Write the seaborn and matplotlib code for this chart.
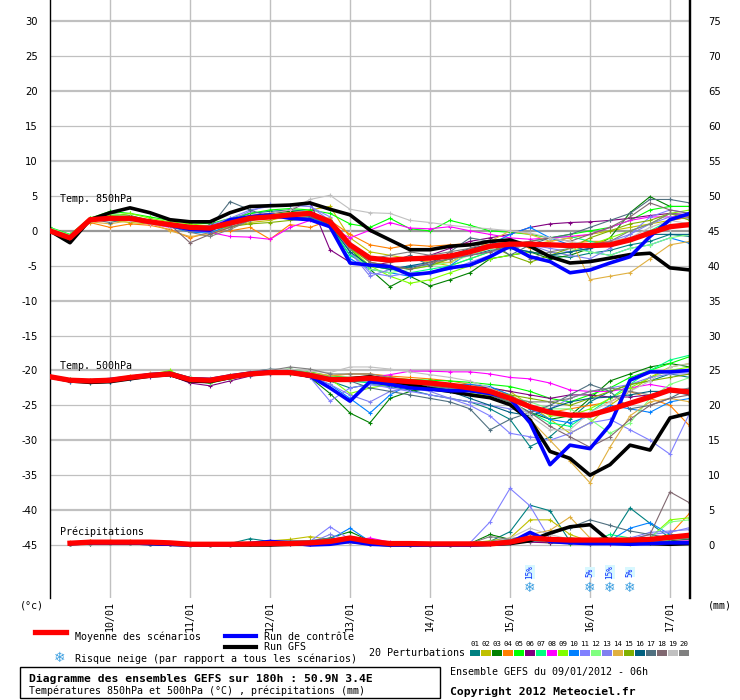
import numpy as np
import pandas as pd
import matplotlib
matplotlib.use("Agg")
import matplotlib.pyplot as plt
import seaborn as sns
from matplotlib.lines import Line2D
from matplotlib.patches import Rectangle

# ---------------- data ----------------
hours = list(range(0, 193, 6))           # 33 steps, 09/01 06h -> +192h
precip_hours = hours[1:]
date_hours = [18, 42, 66, 90, 114, 138, 162, 186]
date_labels = ["10/01", "11/01", "12/01", "13/01", "14/01", "15/01", "16/01", "17/01"]
yticks = list(range(-45, 31, 5))
right_labels = [str(v + 45) for v in yticks]

member_names = ["%02d" % k for k in range(1, 21)]
member_colors = ["#008080", "#c0c000", "#008000", "#ff8000", "#00ff00", "#800080",
                 "#00ff80", "#ff00ff", "#80ff00", "#0080ff", "#8080ff", "#80ff80",
                 "#8080f0", "#e0b040", "#80b000", "#006080", "#507080", "#806870",
                 "#c0c0c0", "#808080"]

mean850 = [0, -1.0, 1.6, 1.8, 1.8, 1.3, 0.9, 0.5, 0.4, 1.1, 1.8, 2.0, 2.3, 2.5, 1.3, -2.0,
           -3.9, -4.2, -4.0, -3.9, -3.6, -3.0, -2.2, -1.9, -1.9, -2.0, -2.1, -2.1, -2.0, -1.3,
           -0.3, 0.6, 0.9]
gfs850 = [0, -1.7, 1.6, 2.6, 3.3, 2.6, 1.6, 1.3, 1.3, 2.6, 3.5, 3.6, 3.7, 4.0, 3.1, 2.3,
          0.1, -1.3, -2.7, -2.7, -2.2, -2.0, -1.5, -1.3, -2.2, -3.7, -4.6, -4.4, -3.9, -3.4,
          -3.2, -5.3, -5.6]
ctrl850 = [0, -1.0, 1.6, 1.8, 1.8, 1.3, 0.8, 0.2, 0.1, 1.6, 2.0, 2.3, 1.8, 1.6, 0.6, -4.6,
           -4.9, -5.1, -6.3, -6.0, -5.3, -4.9, -3.7, -2.2, -3.7, -4.4, -6.0, -5.6, -4.6, -3.7,
           -0.8, 1.6, 2.5]

m850_01 = [0.3, -0.8, 1.5, 2.2, 2.0, 1.5, 0.8, 0.2, 0.5, 1.5, 2.5, 2.8, 3.0, 2.8, 0.5, -3.5, -5.0, -5.5, -5.2, -4.8, -4.0, -3.5, -2.8, -2.5, -3.0, -3.5, -3.8, -3.2, -2.8, -2.0, -1.5, -0.5, -0.8]
m850_02 = [0.1, -1.0, 1.8, 1.5, 1.2, 1.0, 0.6, 0.3, -0.2, 0.5, 1.2, 1.5, 2.2, 3.0, 3.5, -1.0, -3.0, -3.5, -4.0, -4.5, -5.0, -4.0, -3.0, -2.5, -2.0, -1.5, -1.0, -0.5, 0.0, 0.5, 1.0, 1.5, 2.0]
m850_03 = [0.0, -1.2, 1.5, 2.5, 2.2, 1.5, 1.0, 0.8, 0.5, 1.2, 2.0, 2.5, 2.8, 2.5, 1.0, -2.5, -5.5, -8.0, -6.5, -7.9, -7.0, -6.0, -4.0, -3.5, -3.0, -4.0, -3.5, -2.5, -1.0, 2.6, 4.9, 3.5, 3.5]
m850_04 = [0.2, -0.8, 1.2, 0.5, 1.0, 0.8, 0.2, -1.0, -0.2, 0.0, 0.5, -1.2, 0.9, 0.5, 1.5, -0.5, -2.0, -2.5, -2.0, -2.2, -2.0, -1.8, -2.0, -1.5, -2.5, -2.0, -1.8, -1.5, -1.5, -1.0, -0.5, 1.5, 2.0]
m850_05 = [0.5, -0.5, 1.8, 2.8, 2.5, 2.0, 1.5, 1.2, 1.0, 1.8, 2.5, 3.0, 3.2, 3.0, 2.5, 1.0, 0.5, 1.8, 0.3, 0.0, 1.5, 0.8, 0.0, -0.2, -0.5, -1.0, -0.5, 0.0, 0.5, 1.5, 3.0, 3.5, 3.5]
m850_06 = [0.0, -1.0, 1.5, 2.0, 1.8, 1.5, 1.0, 0.5, 0.8, 1.5, 2.2, 2.5, 3.0, 4.2, -2.7, -4.5, -5.0, -4.5, -4.0, -3.5, -2.5, -1.5, -1.0, -0.5, 0.5, 1.0, 1.2, 1.3, 1.5, 1.8, 2.2, 2.5, 2.3]
m850_07 = [0.4, -0.6, 1.6, 2.3, 2.0, 1.2, 0.8, 0.6, 0.3, 1.0, 1.5, 2.0, 2.5, 2.0, 0.8, -3.5, -5.0, -5.5, -6.0, -5.5, -5.0, -4.0, -3.0, -2.0, -1.5, -1.0, -0.8, -1.5, -2.0, -1.5, 0.0, 1.5, 2.5]
m850_08 = [0.2, -0.9, 1.7, 2.0, 1.6, 1.0, 0.5, 0.2, -0.2, -0.8, -0.9, -1.2, 0.5, 1.5, 0.5, -1.0, 0.1, 1.2, 0.4, 0.3, 0.6, 0.0, -0.5, -1.0, -1.2, -1.0, -0.8, -0.5, 0.5, 1.5, 2.0, 2.0, 2.1]
m850_09 = [0.3, -0.7, 1.9, 2.2, 2.5, 1.8, 1.3, 1.0, 0.7, 1.3, 2.0, 2.3, 2.6, 2.4, 1.5, -2.5, -5.0, -6.5, -7.5, -7.0, -6.0, -5.0, -4.0, -3.5, -3.0, -3.5, -3.0, -2.0, -1.0, 0.0, 1.0, 2.5, 3.0]
m850_10 = [0.1, -1.1, 1.4, 1.8, 1.5, 1.2, 0.6, -0.2, -0.3, 0.8, 1.6, 1.8, 2.0, 1.8, 0.5, -4.0, -5.5, -6.0, -6.5, -6.0, -5.0, -3.0, -2.0, -0.5, 0.5, -1.0, -2.0, -3.0, -3.5, -2.5, -2.0, -1.0, -1.8]
m850_11 = [0.2, -0.8, 1.5, 2.0, 1.7, 1.3, 0.7, 0.3, 0.8, 1.8, 3.0, 3.5, 3.7, 3.5, 2.0, -3.0, -6.0, -6.5, -6.0, -6.0, -5.5, -4.5, -3.5, -2.5, -2.0, -2.5, -3.0, -2.5, -1.5, -0.5, 2.0, 3.0, 2.5]
m850_12 = [0.4, -0.6, 1.8, 2.4, 2.1, 1.4, 0.9, 0.6, 0.2, 1.0, 1.5, 2.2, 2.4, 2.3, 1.0, -3.0, -5.5, -6.0, -5.5, -5.0, -4.5, -3.5, -2.5, -2.0, -1.8, -2.0, -2.5, -3.0, -3.5, -2.5, -2.0, -1.0, -0.5]
m850_13 = [0.0, -1.0, 1.6, 1.9, 1.9, 1.5, 1.0, 0.6, 0.4, 1.5, 2.8, 3.8, 3.7, 3.5, 1.5, -3.0, -6.5, -5.5, -5.0, -4.8, -4.0, -3.5, -3.0, -2.5, -2.0, -3.0, -3.5, -4.0, -2.5, -0.5, 1.0, 2.0, 1.8]
m850_14 = [0.3, -0.9, 1.3, 1.0, 1.5, 1.2, 0.0, -0.8, -0.5, 0.5, 1.5, 1.8, 2.0, 2.2, 1.8, -2.0, -4.0, -4.5, -4.0, -4.5, -4.5, -3.0, -1.5, 0.0, -0.5, -1.5, -1.0, -7.0, -6.5, -6.0, -4.0, -2.0, -1.5]
m850_15 = [0.1, -1.0, 1.4, 2.1, 1.8, 1.2, 0.7, 0.4, 0.2, 0.6, 1.0, 1.2, 1.5, 1.8, 1.5, -2.5, -4.5, -5.0, -5.5, -5.0, -4.0, -3.0, -2.0, -3.5, -4.5, -3.5, -2.5, -1.0, 0.0, 1.0, 1.5, 2.5, 1.5]
m850_16 = [0.2, -0.9, 1.6, 2.0, 1.9, 1.4, 0.8, 0.4, 0.3, 1.0, 1.8, 2.2, 2.4, 2.2, 0.8, -3.0, -5.0, -5.5, -5.0, -4.5, -3.5, -2.5, -2.0, -2.5, -3.0, -3.5, -3.0, -2.5, -2.0, -1.0, -0.5, -0.5, -0.5]
m850_17 = [0.2, -0.8, 1.7, 1.2, 1.8, 1.5, 0.8, 0.2, 0.5, 4.2, 3.0, 2.0, 1.8, 2.0, 1.0, -2.5, -4.0, -4.5, -3.5, -5.0, -3.0, -1.0, -1.5, -3.5, -2.0, -1.0, -0.5, 0.5, 1.5, 2.5, 4.5, 4.5, 4.0]
m850_18 = [0.0, -1.1, 1.5, 1.8, 1.7, 1.3, 0.9, -1.7, -0.5, 0.5, 1.5, 2.0, 2.4, 2.5, 1.0, -2.0, -4.5, -5.0, -5.5, -4.5, -4.0, -3.5, -3.0, -2.0, -1.5, -1.0, -1.5, -0.5, 0.5, 2.0, 4.0, 3.0, 2.5]
m850_19 = [0.3, -0.9, 1.6, 1.6, 1.6, 1.0, 0.6, 0.3, 0.5, 1.2, 2.0, 2.5, 3.0, 4.5, 5.1, 3.1, 2.6, 2.5, 1.5, 1.2, 0.8, 0.5, 0.3, 0.0, -0.3, -1.0, -1.5, -2.0, -1.5, -1.0, 0.5, 1.5, 1.0]
m850_20 = [0.1, -1.0, 1.5, 1.9, 1.8, 1.4, 0.9, -0.2, -0.8, 0.2, 1.5, 2.0, 2.2, 2.4, 1.2, -2.5, -4.0, -3.5, -3.0, -3.5, -3.0, -2.5, -1.5, -1.5, -4.0, -3.0, -2.5, -2.0, -1.5, 0.0, 1.0, 2.5, 2.0]

mean500 = [-20.9, -21.4, -21.5, -21.4, -21.0, -20.7, -20.5, -21.3, -21.4, -20.9, -20.5, -20.3,
           -20.3, -20.7, -21.3, -21.3, -21.1, -21.4, -21.6, -21.8, -22.1, -22.5, -23.0, -24.0,
           -25.2, -26.0, -26.4, -26.4, -25.6, -24.7, -23.8, -22.8, -23.1]
gfs500 = [-20.9, -21.5, -21.7, -21.6, -21.2, -20.8, -20.6, -21.5, -21.6, -21.0, -20.5, -20.2,
          -20.3, -20.8, -21.3, -21.2, -20.9, -21.5, -22.0, -22.6, -23.0, -23.5, -23.9, -24.9,
          -27.1, -31.6, -32.6, -35.0, -33.5, -30.7, -31.4, -26.8, -26.1]
ctrl500 = [-20.9, -21.4, -21.5, -21.3, -21.0, -20.6, -20.4, -21.2, -21.3, -20.8, -20.4, -20.2,
           -20.3, -20.8, -22.5, -24.4, -21.6, -22.0, -22.5, -22.7, -22.9, -22.9, -23.3, -24.0,
           -27.5, -33.5, -30.7, -31.2, -27.8, -21.4, -20.2, -20.2, -20.0]

m500_01 = [-20.8, -21.3, -21.6, -21.5, -21.1, -20.6, -20.4, -21.0, -21.2, -20.8, -20.3, -20.0, -20.1, -20.5, -21.5, -22.5, -22.0, -22.3, -22.8, -23.5, -24.0, -24.5, -25.5, -27.0, -30.9, -29.5, -27.0, -24.5, -23.0, -22.0, -21.5, -20.5, -21.0]
m500_02 = [-20.9, -21.5, -21.3, -21.2, -20.8, -20.5, -20.6, -21.2, -21.5, -21.0, -20.6, -20.4, -20.2, -20.5, -21.0, -21.0, -20.8, -21.0, -21.3, -21.5, -22.0, -22.3, -22.5, -23.0, -25.0, -27.0, -29.0, -27.5, -25.0, -23.0, -21.0, -19.5, -19.0]
m500_03 = [-21.0, -21.6, -21.8, -21.7, -21.2, -20.8, -20.7, -21.4, -21.5, -21.0, -20.6, -20.3, -20.5, -21.0, -23.3, -26.1, -27.5, -24.0, -23.0, -22.5, -22.5, -22.8, -23.5, -24.5, -26.0, -27.0, -26.5, -24.0, -21.5, -20.5, -19.5, -19.0, -19.5]
m500_04 = [-20.8, -21.2, -21.4, -21.3, -20.9, -20.6, -20.4, -21.1, -21.3, -20.8, -20.4, -20.1, -20.0, -20.4, -20.8, -20.5, -20.5, -20.8, -21.0, -21.2, -21.5, -22.0, -22.5, -23.5, -25.0, -26.0, -25.5, -25.0, -24.5, -23.0, -24.0, -25.0, -28.0]
m500_05 = [-20.9, -21.4, -21.5, -21.4, -21.0, -20.7, -20.2, -21.0, -21.2, -20.7, -20.3, -20.0, -19.8, -20.2, -20.8, -21.0, -21.0, -21.2, -21.3, -21.4, -21.5, -21.7, -22.0, -22.3, -23.0, -24.0, -24.5, -23.5, -22.5, -21.0, -20.0, -19.0, -18.0]
m500_06 = [-21.0, -21.5, -21.6, -21.5, -21.1, -20.9, -20.7, -21.8, -22.2, -21.5, -20.8, -20.5, -20.4, -20.6, -21.0, -21.2, -21.3, -21.6, -21.8, -22.0, -22.2, -22.3, -22.5, -23.0, -23.5, -24.0, -23.5, -23.5, -23.8, -23.8, -23.5, -23.0, -22.8]
m500_07 = [-20.7, -21.2, -21.4, -21.3, -20.9, -20.5, -20.3, -21.5, -21.8, -21.0, -20.4, -20.1, -20.1, -20.6, -21.2, -21.5, -21.8, -22.0, -22.2, -22.5, -22.8, -23.0, -23.5, -24.5, -26.0, -27.5, -28.0, -26.0, -24.0, -22.0, -20.0, -18.5, -17.8]
m500_08 = [-20.9, -21.4, -21.5, -21.4, -21.0, -20.7, -20.5, -21.3, -21.4, -20.9, -20.5, -20.2, -20.2, -20.6, -21.0, -21.0, -21.0, -20.6, -20.1, -20.1, -20.2, -20.2, -20.5, -21.0, -21.2, -21.8, -22.8, -23.0, -23.0, -22.5, -22.0, -22.5, -23.5]
m500_09 = [-20.8, -21.3, -21.5, -21.4, -21.0, -20.6, -20.0, -21.5, -21.8, -21.2, -20.6, -20.2, -20.1, -20.5, -21.2, -23.3, -22.5, -22.0, -22.3, -22.6, -23.0, -23.3, -23.6, -24.0, -25.0, -26.5, -26.5, -25.5, -24.0, -22.5, -21.0, -20.0, -19.5]
m500_10 = [-20.9, -21.4, -21.6, -21.5, -21.1, -20.7, -20.5, -21.3, -21.5, -21.0, -20.6, -20.3, -20.3, -20.8, -22.0, -24.0, -26.1, -23.5, -22.0, -21.8, -22.0, -22.0, -22.3, -23.5, -25.5, -27.0, -27.5, -26.5, -25.0, -25.5, -26.0, -24.5, -24.0]
m500_11 = [-21.0, -21.6, -21.7, -21.6, -21.2, -20.8, -20.6, -21.4, -21.6, -21.1, -20.7, -20.4, -20.4, -21.0, -24.4, -22.5, -22.0, -22.5, -23.0, -23.5, -24.0, -25.0, -26.5, -29.0, -29.5, -30.0, -29.0, -27.5, -27.0, -28.5, -30.0, -32.0, -26.0]
m500_12 = [-20.8, -21.3, -21.4, -21.3, -20.9, -20.5, -20.4, -21.2, -21.3, -20.8, -20.4, -20.1, -20.0, -20.4, -20.9, -21.1, -21.3, -21.5, -21.8, -22.0, -22.3, -22.8, -23.2, -23.8, -24.5, -25.5, -25.5, -27.0, -29.0, -27.5, -24.0, -22.0, -21.0]
m500_13 = [-20.9, -21.5, -21.6, -21.5, -21.1, -20.7, -20.5, -21.3, -21.4, -21.0, -20.5, -20.2, -20.3, -21.0, -22.0, -23.5, -24.5, -23.0, -22.5, -23.0, -24.0, -24.5, -25.0, -25.5, -26.0, -25.5, -24.0, -23.0, -22.5, -22.0, -21.0, -20.5, -20.5]
m500_14 = [-20.8, -21.3, -21.4, -21.4, -21.0, -20.4, -20.3, -21.1, -21.2, -20.7, -20.3, -20.0, -20.0, -20.3, -20.7, -20.5, -20.5, -21.0, -21.5, -22.0, -22.5, -23.0, -23.5, -24.0, -27.0, -30.0, -33.0, -36.1, -31.0, -26.5, -24.5, -24.0, -24.5]
m500_15 = [-20.9, -21.4, -21.5, -21.4, -21.0, -20.7, -20.5, -21.3, -21.4, -20.9, -20.5, -20.3, -20.3, -20.7, -21.1, -21.2, -21.2, -21.5, -21.8, -22.2, -22.5, -22.8, -23.0, -23.5, -24.0, -24.5, -25.0, -24.0, -23.0, -22.0, -21.5, -21.0, -20.5]
m500_16 = [-21.0, -21.5, -21.7, -21.6, -21.1, -20.8, -20.6, -21.4, -21.5, -21.0, -20.6, -20.3, -20.3, -20.7, -21.3, -21.5, -21.5, -21.8, -22.2, -22.5, -23.0, -24.0, -25.0, -26.0, -26.5, -25.5, -24.5, -24.0, -23.8, -23.5, -23.0, -23.0, -23.5]
m500_17 = [-20.9, -21.4, -21.5, -21.4, -21.0, -20.6, -20.4, -21.2, -21.3, -20.7, -20.2, -19.8, -19.9, -20.4, -21.0, -21.5, -22.5, -23.0, -23.5, -24.0, -24.5, -25.5, -28.5, -27.0, -26.0, -25.0, -23.5, -22.0, -23.0, -25.5, -25.0, -24.0, -22.5]
m500_18 = [-20.9, -21.4, -21.5, -21.4, -21.0, -20.7, -20.5, -21.3, -21.4, -20.9, -20.5, -20.2, -20.2, -20.6, -21.1, -21.2, -21.3, -21.6, -21.8, -22.2, -22.5, -23.0, -23.5, -24.5, -26.0, -28.0, -29.5, -31.0, -29.5, -27.0, -25.0, -24.0, -23.5]
m500_19 = [-20.8, -21.3, -21.4, -21.3, -20.9, -20.5, -20.3, -21.0, -21.1, -20.6, -20.2, -19.9, -19.8, -20.1, -20.3, -19.5, -19.5, -19.8, -20.2, -20.6, -21.0, -21.5, -22.5, -24.0, -26.5, -28.5, -28.5, -26.0, -24.5, -23.0, -21.5, -19.5, -19.0]
m500_20 = [-20.9, -21.4, -21.5, -21.4, -21.0, -20.7, -20.5, -21.2, -21.3, -20.8, -20.4, -20.0, -19.5, -19.8, -20.5, -20.5, -20.5, -21.0, -21.5, -22.0, -22.5, -23.0, -23.5, -24.0, -24.5, -24.5, -24.0, -23.0, -22.5, -23.0, -23.5, -23.0, -22.5]

# precipitation (mm), from +6h
mean_pr = [0.25, 0.4, 0.4, 0.4, 0.4, 0.3, 0.1, 0.1, 0.1, 0.15, 0.2, 0.2, 0.3, 0.5, 1.0, 0.5, 0.2,
           0.2, 0.15, 0.15, 0.15, 0.15, 0.4, 1.0, 0.8, 0.7, 0.7, 0.7, 0.7, 0.8, 1.1, 1.4]
gfs_pr = [0.2, 0.3, 0.3, 0.3, 0.2, 0.1, 0.0, 0.0, 0.0, 0.0, 0.0, 0.1, 0.1, 0.3, 0.6, 0.2, 0.0,
          0.0, 0.0, 0.0, 0.0, 0.1, 0.2, 0.6, 1.7, 2.6, 2.9, 0.5, 0.3, 0.2, 0.1, 0.2]
ctrl_pr = [0.2, 0.3, 0.3, 0.3, 0.2, 0.1, 0.0, 0.0, 0.0, 0.2, 0.5, 0.3, 0.0, 0.1, 0.5, 0.1, 0.0,
           0.0, 0.0, 0.0, 0.0, 0.1, 0.3, 1.8, 0.5, 0.3, 0.2, 0.2, 0.1, 0.2, 0.3, 0.3]

p_01 = [0.2, 0.3, 0.4, 0.3, 0.2, 0.1, 0.0, 0.0, 0.2, 0.9, 0.5, 0.4, 0.3, 0.5, 1.2, 0.8, 0.3, 0.2, 0.2, 0.1, 0.2, 0.5, 1.9, 5.7, 4.9, 0.5, 0.3, 0.8, 5.3, 3.1, 1.0, 0.8]
p_02 = [0.3, 0.5, 0.5, 0.4, 0.3, 0.1, 0.0, 0.0, 0.1, 0.3, 0.6, 0.8, 1.2, 0.8, 0.6, 0.2, 0.1, 0.1, 0.1, 0.1, 0.3, 0.6, 1.0, 3.6, 3.6, 1.5, 0.5, 0.3, 0.2, 0.4, 1.0, 1.2]
p_03 = [0.2, 0.3, 0.3, 0.3, 0.2, 0.1, 0.0, 0.0, 0.0, 0.2, 0.3, 0.3, 0.4, 1.0, 1.9, 0.6, 0.2, 0.1, 0.0, 0.0, 0.2, 1.5, 0.8, 0.6, 0.5, 1.0, 0.7, 0.5, 0.4, 0.3, 0.6, 0.8]
p_04 = [0.1, 0.3, 0.4, 0.3, 0.2, 0.1, 0.0, 0.0, 0.0, 0.1, 0.2, 0.3, 0.3, 0.5, 0.3, 0.1, 0.0, 0.0, 0.0, 0.0, 0.1, 0.3, 0.5, 0.8, 0.6, 0.4, 0.3, 0.3, 0.4, 0.8, 1.5, 4.6]
p_05 = [0.2, 0.2, 0.3, 0.3, 0.2, 0.1, 0.0, 0.0, 0.0, 0.1, 0.2, 0.2, 0.3, 0.6, 0.4, 0.2, 0.1, 0.0, 0.0, 0.0, 0.1, 0.2, 0.4, 0.5, 0.3, 0.2, 0.2, 0.3, 0.5, 0.8, 1.5, 1.2]
p_06 = [0.2, 0.2, 0.3, 0.3, 0.2, 0.1, 0.0, 0.0, 0.0, 0.1, 0.1, 0.2, 0.2, 0.4, 0.3, 0.1, 0.0, 0.0, 0.0, 0.0, 0.0, 0.1, 0.3, 0.4, 0.3, 0.3, 0.2, 0.2, 0.3, 0.4, 0.3, 0.3]
p_07 = [0.2, 0.3, 0.3, 0.3, 0.2, 0.1, 0.0, 0.0, 0.1, 0.2, 0.3, 0.3, 0.4, 0.7, 0.5, 0.2, 0.1, 0.0, 0.0, 0.0, 0.1, 0.3, 0.6, 0.8, 1.0, 0.6, 0.5, 1.5, 1.0, 0.8, 1.2, 1.5]
p_08 = [0.2, 0.3, 0.4, 0.3, 0.2, 0.1, 0.0, 0.0, 0.0, 0.2, 0.3, 0.3, 0.4, 0.8, 0.6, 1.0, 0.4, 0.1, 0.0, 0.0, 0.1, 0.2, 0.4, 0.6, 0.5, 0.4, 0.3, 0.3, 0.3, 0.4, 0.5, 0.6]
p_09 = [0.3, 0.5, 0.6, 0.5, 0.3, 0.1, 0.0, 0.0, 0.1, 0.2, 0.3, 0.4, 0.6, 0.9, 0.5, 0.2, 0.1, 0.0, 0.0, 0.0, 0.2, 0.5, 0.8, 1.0, 0.8, 0.6, 0.5, 0.4, 0.6, 1.0, 3.6, 3.9]
p_10 = [0.2, 0.3, 0.3, 0.3, 0.2, 0.1, 0.0, 0.0, 0.0, 0.1, 0.2, 0.3, 0.3, 0.8, 2.4, 0.5, 0.2, 0.1, 0.0, 0.0, 0.1, 0.3, 0.6, 0.9, 0.7, 0.5, 0.4, 0.6, 2.4, 3.2, 1.5, 1.0]
p_11 = [0.2, 0.3, 0.4, 0.3, 0.2, 0.1, 0.0, 0.0, 0.1, 0.2, 0.3, 0.3, 0.5, 2.6, 0.8, 0.3, 0.1, 0.0, 0.0, 0.0, 0.3, 3.3, 8.1, 5.6, 0.8, 0.5, 0.4, 0.5, 0.8, 1.5, 1.8, 2.5]
p_12 = [0.2, 0.3, 0.3, 0.3, 0.2, 0.1, 0.0, 0.0, 0.0, 0.1, 0.2, 0.3, 0.3, 0.6, 0.4, 0.2, 0.1, 0.0, 0.0, 0.0, 0.1, 0.3, 0.5, 0.7, 0.6, 0.5, 0.6, 1.0, 0.8, 1.0, 3.3, 3.6]
p_13 = [0.2, 0.3, 0.3, 0.3, 0.2, 0.1, 0.0, 0.0, 0.0, 0.1, 0.2, 0.2, 0.3, 1.5, 0.6, 0.2, 0.1, 0.0, 0.0, 0.0, 0.1, 0.2, 0.5, 0.6, 0.5, 0.4, 0.3, 0.5, 1.0, 1.8, 2.0, 2.2]
p_14 = [0.4, 0.6, 0.6, 0.5, 0.3, 0.1, 0.0, 0.0, 0.1, 0.2, 0.3, 0.3, 0.4, 0.7, 0.4, 0.1, 0.0, 0.0, 0.0, 0.0, 0.1, 0.4, 0.8, 1.5, 2.1, 4.0, 1.0, 0.5, 0.4, 0.6, 0.8, 1.0]
p_15 = [0.2, 0.3, 0.4, 0.3, 0.2, 0.1, 0.0, 0.0, 0.1, 0.2, 0.3, 0.4, 0.5, 0.8, 0.5, 0.2, 0.1, 0.0, 0.0, 0.0, 0.1, 0.3, 0.7, 1.2, 1.0, 0.6, 0.5, 0.4, 0.5, 0.8, 1.0, 1.2]
p_16 = [0.2, 0.3, 0.3, 0.3, 0.2, 0.1, 0.0, 0.0, 0.0, 0.2, 0.3, 0.3, 0.4, 0.6, 0.4, 0.2, 0.1, 0.0, 0.0, 0.0, 0.1, 0.3, 0.5, 0.6, 0.5, 0.4, 0.4, 0.5, 0.6, 0.6, 0.5, 0.5]
p_17 = [0.2, 0.3, 0.3, 0.3, 0.2, 0.1, 0.0, 0.0, 0.1, 0.3, 0.5, 0.6, 0.6, 1.0, 0.6, 0.2, 0.1, 0.0, 0.0, 0.0, 0.2, 0.5, 0.9, 1.2, 1.5, 2.5, 3.6, 2.8, 2.0, 1.5, 1.0, 0.8]
p_18 = [0.2, 0.3, 0.3, 0.3, 0.2, 0.1, 0.0, 0.0, 0.0, 0.1, 0.2, 0.3, 0.4, 0.6, 0.4, 0.2, 0.1, 0.0, 0.0, 0.0, 0.1, 0.3, 0.5, 0.6, 0.5, 0.4, 0.3, 0.5, 0.8, 1.5, 7.6, 6.0]
p_19 = [0.2, 0.3, 0.3, 0.3, 0.2, 0.1, 0.0, 0.0, 0.0, 0.1, 0.2, 0.3, 0.3, 0.5, 0.3, 0.1, 0.0, 0.0, 0.0, 0.0, 0.1, 0.4, 1.0, 2.4, 1.5, 0.8, 0.6, 0.5, 0.6, 0.8, 1.0, 1.3]
p_20 = [0.2, 0.3, 0.3, 0.3, 0.2, 0.1, 0.0, 0.0, 0.1, 0.2, 0.3, 0.3, 0.4, 0.7, 0.4, 0.2, 0.1, 0.0, 0.0, 0.0, 0.2, 1.2, 0.8, 0.6, 0.5, 0.5, 0.5, 0.6, 0.6, 0.7, 0.8, 1.0]

members850 = [m850_01, m850_02, m850_03, m850_04, m850_05, m850_06, m850_07, m850_08, m850_09, m850_10,
              m850_11, m850_12, m850_13, m850_14, m850_15, m850_16, m850_17, m850_18, m850_19, m850_20]
members500 = [m500_01, m500_02, m500_03, m500_04, m500_05, m500_06, m500_07, m500_08, m500_09, m500_10,
              m500_11, m500_12, m500_13, m500_14, m500_15, m500_16, m500_17, m500_18, m500_19, m500_20]
members_pr = [p_01, p_02, p_03, p_04, p_05, p_06, p_07, p_08, p_09, p_10,
              p_11, p_12, p_13, p_14, p_15, p_16, p_17, p_18, p_19, p_20]

precip_offset = -45            # 0 mm is drawn at the -45 line
snow_hours = [144, 162, 168, 174]
snow_pct = [15, 5, 15, 5]

# ---------------- figure ----------------
W, H = 740, 700
fig = plt.figure(figsize=(W / 100, H / 100), dpi=100)
ax = fig.add_axes([50 / W, 1 - 598 / H, 640 / W, 598 / H])
ax.set_xlim(0, 192)
ax.set_ylim(-52.6, 33.08)

MONO = "DejaVu Sans Mono"

# grid
for v in yticks:
    if v == 0:
        ax.axhline(v, color="#999999", lw=1.6, zorder=1)
    elif v % 10 == 0:
        ax.axhline(v, color="#c0c0c0", lw=1.6, zorder=1)
    else:
        ax.axhline(v, color="#c0c0c0", lw=0.9, zorder=1)
for h in date_hours:
    ax.axvline(h, color="#c0c0c0", lw=1.0, zorder=1)


def draw(x, y, color, lw, z, marker=True):
    kw = dict(marker="+", markersize=3.5, markeredgewidth=0.8, markeredgecolor=color) if marker else {}
    sns.lineplot(x=x, y=y, color=color, linewidth=lw, ax=ax, zorder=z,
                 estimator=None, sort=False, legend=False, **kw)


for c, s850, s500, spr in zip(member_colors, members850, members500, members_pr):
    draw(hours, s850, c, 0.8, 2)
    draw(hours, s500, c, 0.8, 2)
    draw(precip_hours, [v + precip_offset for v in spr], c, 0.8, 2)

for series, x, off in [(gfs850, hours, 0), (gfs500, hours, 0), (gfs_pr, precip_hours, precip_offset)]:
    draw(x, [v + off for v in series], "black", 2.6, 3, marker=False)
for series, x, off in [(ctrl850, hours, 0), (ctrl500, hours, 0), (ctrl_pr, precip_hours, precip_offset)]:
    draw(x, [v + off for v in series], "#0000ff", 2.6, 4, marker=False)
for series, x, off in [(mean850, hours, 0), (mean500, hours, 0), (mean_pr, precip_hours, precip_offset)]:
    draw(x, [v + off for v in series], "#ff0000", 3.8, 5, marker=False)

# section labels
ax.text(3, 4.6, "Temp. 850hPa", family=MONO, fontsize=7.2, va="center", ha="left", zorder=6)
ax.text(3, -19.4, "Temp. 500hPa", family=MONO, fontsize=7.2, va="center", ha="left", zorder=6)
ax.text(3, -43.1, "Précipitations", family=MONO, fontsize=7.2, va="center", ha="left", zorder=6)

# snow risk
for h, p in zip(snow_hours, snow_pct):
    ax.text(h, -51.2, "\u2744", family="DejaVu Sans", fontsize=10, color="#3fa0e0",
            ha="center", va="center", zorder=6)
    ax.text(h, -48.9, "%d%%" % p, rotation=90, family=MONO, fontsize=5.5, color="#1030ff",
            ha="center", va="center", zorder=6,
            bbox=dict(fc="#d8f8ff", ec="none", pad=0.3))

# axes / ticks
ax.set_yticks(yticks)
ax.set_yticklabels([str(v) for v in yticks], fontsize=7.2)
ax.set_xticks(date_hours)
ax.set_xticklabels(date_labels, rotation=90, family=MONO, fontsize=7.2)
ax.tick_params(axis="both", length=0)
ax.tick_params(axis="y", pad=9)
ax.tick_params(axis="x", pad=2)
ax.set_xlabel("")
ax.set_ylabel("")
for side in ["top", "bottom"]:
    ax.spines[side].set_visible(False)
ax.spines["left"].set_color("black")
ax.spines["left"].set_linewidth(1.0)
ax.spines["right"].set_color("black")
ax.spines["right"].set_linewidth(1.6)

ax2 = ax.twinx()
ax2.set_ylim(ax.get_ylim())
ax2.set_yticks(yticks)
ax2.set_yticklabels(right_labels, fontsize=7.2)
ax2.tick_params(axis="y", length=0, pad=13)
for side in ["top", "bottom", "left"]:
    ax2.spines[side].set_visible(False)
ax2.spines["right"].set_linewidth(1.6)


def fx(px):
    return px / W


def fy(py):
    return 1 - py / H


fig.text(fx(20), fy(606), "(°c)", family=MONO, fontsize=7.2, va="center", ha="left")
fig.text(fx(708), fy(606), "(mm)", family=MONO, fontsize=7.2, va="center", ha="left")

# legend
fig.add_artist(Line2D([fx(35), fx(66)], [fy(632)] * 2, color="#ff0000", lw=3.8))
fig.text(fx(75), fy(637), "Moyenne des scénarios", family=MONO, fontsize=7.2, va="center")
fig.add_artist(Line2D([fx(225), fx(256)], [fy(636)] * 2, color="#0000ff", lw=3.0))
fig.text(fx(264), fy(637), "Run de contrôle", family=MONO, fontsize=7.2, va="center")
fig.add_artist(Line2D([fx(225), fx(256)], [fy(647)] * 2, color="black", lw=3.0))
fig.text(fx(264), fy(647), "Run GFS", family=MONO, fontsize=7.2, va="center")
fig.text(fx(60), fy(658), "\u2744", family="DejaVu Sans", fontsize=10, color="#3fa0e0",
         va="center", ha="center")
fig.text(fx(75), fy(659), "Risque neige (par rapport a tous les scénarios)", family=MONO,
         fontsize=7.2, va="center")
fig.text(fx(369), fy(653), "20 Perturbations", family=MONO, fontsize=7.2, va="center")
for k, (name, c) in enumerate(zip(member_names, member_colors)):
    x0 = 470 + 11 * k
    fig.add_artist(Rectangle((fx(x0), fy(656)), 10 / W, 6 / H, transform=fig.transFigure,
                             facecolor=c, edgecolor="none"))
    fig.text(fx(x0 + 5), fy(644), name, family=MONO, fontsize=5.3, va="center", ha="center")

fig.add_artist(Rectangle((fx(20), fy(698)), 420 / W, 31 / H, transform=fig.transFigure,
                         fill=False, edgecolor="black", lw=1.0))
fig.text(fx(29), fy(679), "Diagramme des ensembles GEFS sur 180h : 50.9N 3.4E", family=MONO,
         fontsize=8.2, fontweight="bold", va="center")
fig.text(fx(29), fy(691), "Températures 850hPa et 500hPa (°C) , précipitations (mm)", family=MONO,
         fontsize=7.2, va="center")
fig.text(fx(450), fy(672), "Ensemble GEFS du 09/01/2012 - 06h", family=MONO, fontsize=7.2,
         va="center")
fig.text(fx(450), fy(692), "Copyright 2012 Meteociel.fr", family=MONO, fontsize=8.2,
         fontweight="bold", va="center")

fig.savefig("out.png", dpi=100)
